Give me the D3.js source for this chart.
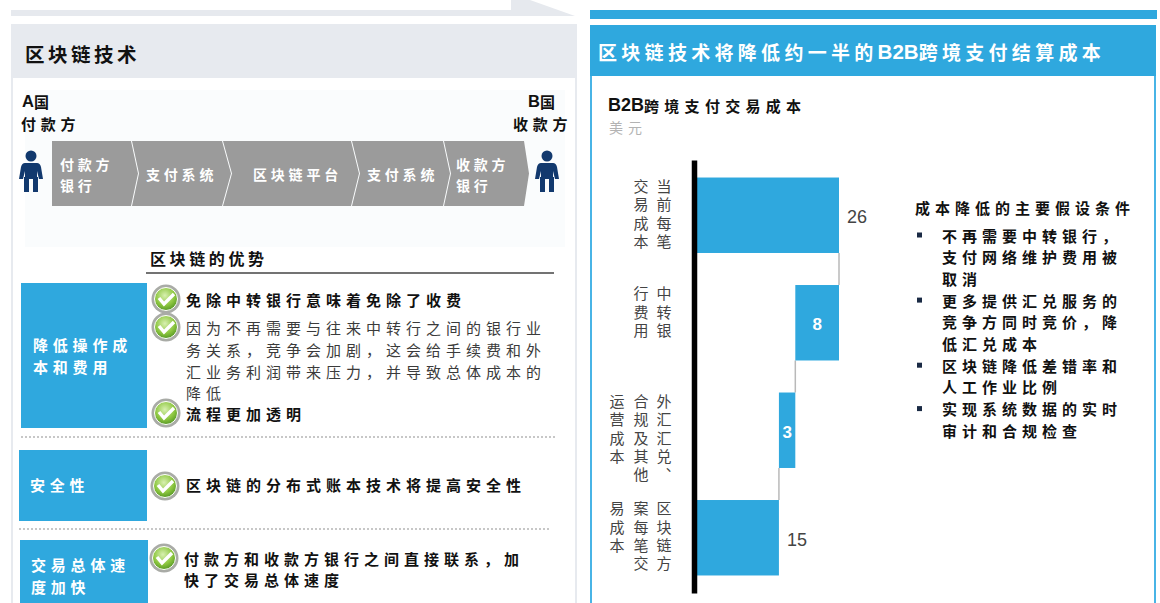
<!DOCTYPE html>
<html lang="zh">
<head>
<meta charset="utf-8">
<title>区块链技术将降低约一半的B2B跨境支付结算成本</title>
<script src="https://cdn.jsdelivr.net/npm/d3@7/dist/d3.min.js"></script>
<style>
html,body{margin:0;padding:0;background:#fff;overflow:hidden}
svg{display:block}
text{font-family:"Noto Sans CJK SC","Liberation Sans",sans-serif}
.num,.latin{font-family:"Liberation Sans",Arial,sans-serif}
</style>
</head>
<body>
<svg id="chart" width="1160" height="603"></svg>
<script>
// Waterfall data: cost per B2B cross-border payment, USD
const costCategories = ["current", "bankFees", "fxCompliance", "blockchain"];
const costValues = [26, 8, 3, 15];
const costKinds = ["total", "drop", "drop", "total"];
const costLabelColumns = [
  ["当前每笔", "交易成本"],
  ["中转银", "行费用"],
  ["外汇汇兑、", "合规及其他", "运营成本"],
  ["区块链方", "案每笔交", "易成本"]
];

// Text content
const leftTitle = "区块链技术";
const rightTitle = "区块链技术将降低约一半的B2B跨境支付结算成本";
const chartTitle = "B2B跨境支付交易成本";
const chartUnit = "美元";
const flowSteps = [["付款方", "银行"], ["支付系统"], ["区块链平台"], ["支付系统"], ["收款方", "银行"]];
const advantagesTitle = "区块链的优势";
const advantageHeads = [["降低操作成", "本和费用"], ["安全性"], ["交易总体速", "度加快"]];
const advantageLines = [
  {check: true,  bold: true,  text: "免除中转银行意味着免除了收费"},
  {check: true,  bold: false, text: "因为不再需要与往来中转行之间的银行业"},
  {check: false, bold: false, text: "务关系，竞争会加剧，这会给手续费和外"},
  {check: false, bold: false, text: "汇业务利润带来压力，并导致总体成本的"},
  {check: false, bold: false, text: "降低"},
  {check: true,  bold: true,  text: "流程更加透明"},
  {check: true,  bold: true,  text: "区块链的分布式账本技术将提高安全性"},
  {check: true,  bold: true,  text: "付款方和收款方银行之间直接联系，加"},
  {check: false, bold: true,  text: "快了交易总体速度"}
];
const assumptionsTitle = "成本降低的主要假设条件";
const assumptions = [
  ["不再需要中转银行，", "支付网络维护费用被", "取消"],
  ["更多提供汇兑服务的", "竞争方同时竞价，降", "低汇兑成本"],
  ["区块链降低差错率和", "人工作业比例"],
  ["实现系统数据的实时", "审计和合规检查"]
];

const BLUE = "#2fa8de", NAVY = "#12396e", INK = "#111";
const svg = d3.select("#chart");

const defs = svg.append("defs");
const grad = defs.append("radialGradient").attr("id", "okFill").attr("cx", "45%").attr("cy", "35%").attr("r", "70%");
grad.append("stop").attr("offset", "0%").attr("stop-color", "#d8f0b0");
grad.append("stop").attr("offset", "60%").attr("stop-color", "#8cc63f");
grad.append("stop").attr("offset", "100%").attr("stop-color", "#4d8f22");

// Draws one line of text; Latin runs get a tighter sans setting than the CJK runs
function label(g, x, y, str, o = {}) {
  const size = o.size || 15;
  const ls = o.ls === undefined ? 4 : o.ls;
  const t = g.append("text").attr("x", x).attr("y", y)
    .attr("dominant-baseline", "central")
    .attr("font-size", size)
    .attr("font-weight", o.bold ? 700 : 400)
    .attr("text-anchor", o.anchor || "start")
    .attr("fill", o.fill || INK);
  str.split(/([A-Za-z0-9]+)/).filter(s => s).forEach(run => {
    const latin = /^[A-Za-z0-9]+$/.test(run);
    t.append("tspan")
      .attr("class", latin ? "latin" : null)
      .attr("font-size", latin ? size * (o.latinScale || 1.12) : size)
      .attr("letter-spacing", latin ? 0 : ls)
      .text(run);
  });
  return t;
}

/* ---------- left panel ---------- */
const L = svg.append("g");
L.append("path").attr("d", "M11 10H511V0H530L575 16H11Z").attr("fill", "#e6e9ee");
L.append("rect").attr("x", 11).attr("y", 24).attr("width", 566).attr("height", 54).attr("fill", "#e7eaef");
L.append("path").attr("d", "M12 78V603M576 78V603").attr("stroke", "#e7eaef").attr("stroke-width", 2).attr("fill", "none");
L.append("rect").attr("x", 25).attr("y", 90).attr("width", 540).attr("height", 157).attr("fill", "#fafcfd");
label(L, 25, 53, leftTitle, {size: 19.5, bold: true, ls: 3.5});

label(L, 22, 101, "A国", {size: 15, bold: true, ls: 0, latinScale: 1.1});
label(L, 21, 123, "付款方", {size: 15, bold: true, ls: 4.7});
label(L, 528, 101, "B国", {size: 15, bold: true, ls: 0, latinScale: 1.1});
label(L, 513, 123, "收款方", {size: 15, bold: true, ls: 4.7});

// Process chevrons between the two parties
const flowEdges = [51, 131, 222, 351, 443, 524];
const flowTip = [7, 9, 8, 7, 5];
const flowTextX = [60, 146, 253, 367, 456];
const flowTop = 141, flowBot = 206, flowMid = 173.5;
flowSteps.forEach((lines, i) => {
  const a = flowEdges[i], b = flowEdges[i + 1], t = flowTip[i];
  const notch = i === 0 ? 0 : flowTip[i - 1];
  const d = `M${a + 1} ${flowTop}H${b}L${b + t} ${flowMid}L${b} ${flowBot}H${a + 1}` +
            (notch ? `L${a + 1 + notch} ${flowMid}Z` : "Z");
  L.append("path").attr("d", d).attr("fill", "#9b9b9b");
  const single = lines.length === 1;
  lines.forEach((s, k) => label(L, flowTextX[i], single ? flowMid : 164 + k * 21, s, {size: 14, bold: true, ls: 3.8, fill: "#fff"}));
});

// Payer and payee figures
function person(g, cx) {
  const p = g.append("g").attr("transform", `translate(${cx},150)`).attr("fill", NAVY);
  p.append("circle").attr("cx", 0).attr("cy", 6).attr("r", 5.5);
  p.append("path").attr("d", "M-6 13H6Q9 13 10 17L12 29H8L6 21V27H7V42H2V29H-2V42H-7V27H-6V21L-8 29H-12L-10 17Q-9 13 -6 13Z");
}
person(L, 31);
person(L, 547);

label(L, 150, 258, advantagesTitle, {size: 16, bold: true, ls: 3.6});
L.append("line").attr("x1", 146).attr("x2", 554).attr("y1", 273).attr("y2", 273).attr("stroke", "#444").attr("stroke-width", 1.5);

// Blue category blocks
const headBoxes = [
  {x: 21, y: 283, w: 126, h: 145, tx: 33, ty: [344, 366]},
  {x: 19, y: 450, w: 128, h: 71, tx: 30, ty: [484]},
  {x: 20, y: 540, w: 128, h: 70, tx: 31, ty: [564, 586]}
];
headBoxes.forEach((b, i) => {
  L.append("rect").attr("x", b.x).attr("y", b.y).attr("width", b.w).attr("height", b.h).attr("fill", BLUE);
  advantageHeads[i].forEach((s, k) => label(L, b.tx, b.ty[k], s, {size: 15, bold: true, ls: 4.8, fill: "#fff"}));
});

[[21, 555, 437], [19, 550, 529]].forEach(([a, b, y]) =>
  L.append("line").attr("x1", a).attr("x2", b).attr("y1", y).attr("y2", y)
    .attr("stroke", "#b5b5b5").attr("stroke-width", 1.5).attr("stroke-dasharray", "2 2"));

// Advantage bullets with check badges
function badge(g, cx, cy) {
  const c = g.append("g").attr("transform", `translate(${cx},${cy})`);
  c.append("circle").attr("r", 14.5).attr("fill", "#a9aba6");
  c.append("circle").attr("r", 11.5).attr("fill", "url(#okFill)").attr("stroke", "#fff").attr("stroke-width", 1);
  c.append("path").attr("d", "M-7 -1L-2 5L8 -5").attr("fill", "none").attr("stroke", "#fff").attr("stroke-width", 3.4);
}
const lineY = [299, 327, 349, 371, 392, 413, 484, 558, 579];
const lineX = [186, 186, 186, 186, 186, 186, 186, 184, 184];
const badgeX = [166, 166, 166, 166, 166, 166, 165, 164, 164];
advantageLines.forEach((d, i) => {
  if (d.check) badge(L, badgeX[i], lineY[i] + (i === 6 ? 2 : 0));
  label(L, lineX[i], lineY[i], d.text, {size: 15, bold: d.bold, ls: 5, fill: d.bold ? INK : "#3b3b3b"});
});

/* ---------- right panel ---------- */
const R = svg.append("g");
R.append("rect").attr("x", 590).attr("y", 10).attr("width", 567).attr("height", 9).attr("fill", BLUE);
R.append("rect").attr("x", 591).attr("y", 26).attr("width", 564).attr("height", 600).attr("fill", "#fff").attr("stroke", "#48b4e6").attr("stroke-width", 2);
R.append("rect").attr("x", 590).attr("y", 25).attr("width", 566).attr("height", 51).attr("fill", BLUE);
label(R, 598, 51, rightTitle, {size: 19, bold: true, ls: 4.3, fill: "#fff", latinScale: 1.08});
label(R, 608, 105, chartTitle, {size: 15, bold: true, ls: 5.3, latinScale: 1.2});
label(R, 609, 127, chartUnit, {size: 14, ls: 5, fill: "#b3b3b3"});

// Waterfall scales
const x = d3.scaleLinear().domain([0, 26]).range([697, 839]);
const y = d3.scaleBand().domain(costCategories).range([160, 593]).paddingInner(0.298).paddingOuter(0.163);

// Running level: each bar spans [start, end] in USD
let level = 0;
const steps = costCategories.map((c, i) => {
  const v = costValues[i];
  if (costKinds[i] === "total") { level = v; return {c, v, i, start: 0, end: v, link: v}; }
  const s = {c, v, i, start: level - v, end: level, link: level - v};
  level -= v;
  return s;
});

const chart = R.append("g");
steps.slice(0, -1).forEach((d, i) => {
  chart.append("line")
    .attr("x1", x(d.link)).attr("x2", x(d.link))
    .attr("y1", y(d.c) + y.bandwidth())
    .attr("y2", y(steps[i + 1].c))
    .attr("stroke", "#b9b9b9").attr("stroke-width", 1.5);
});
chart.selectAll("rect.bar").data(steps).join("rect").attr("class", "bar")
  .attr("x", d => x(d.start))
  .attr("y", d => y(d.c))
  .attr("width", d => x(d.end) - x(d.start))
  .attr("height", y.bandwidth())
  .attr("fill", BLUE);

const axis = chart.append("g").attr("transform", "translate(694,0)")
  .call(d3.axisLeft(y).tickSize(0).tickFormat(""));
axis.select(".domain").attr("stroke", "#000").attr("stroke-width", 5.5);

chart.selectAll("text.val").data(steps).join("text").attr("class", "val num")
  .attr("dominant-baseline", "central")
  .attr("font-size", d => costKinds[d.i] === "total" ? 18 : 17)
  .attr("font-weight", d => costKinds[d.i] === "total" ? 400 : 700)
  .attr("fill", d => costKinds[d.i] === "total" ? "#444" : "#fff")
  .attr("text-anchor", d => costKinds[d.i] === "total" ? "start" : "middle")
  .attr("x", d => costKinds[d.i] === "total" ? x(d.end) + 8 : (x(d.start) + x(d.end)) / 2)
  .attr("y", d => y(d.c) + y.bandwidth() / 2 + 2)
  .text(d => d.v);

// Vertical category labels, columns run right to left
const columnX = [664, 641, 617];
costCategories.forEach((c, i) => {
  costLabelColumns[i].forEach((col, k) => {
    chart.append("text")
      .attr("x", columnX[k]).attr("y", y(c) + 1)
      .attr("writing-mode", "vertical-rl")
      .attr("font-size", 15).attr("letter-spacing", 3.4).attr("fill", "#444")
      .text(col);
  });
});

// Assumptions list
label(R, 915, 207, assumptionsTitle, {size: 15, bold: true, ls: 5});
let row = 234.5;
assumptions.forEach(lines => {
  R.append("rect").attr("x", 917).attr("y", row - 2).attr("width", 5).attr("height", 5).attr("fill", "#1a2a44");
  lines.forEach(s => {
    label(R, 942, row, s, {size: 15, bold: true, ls: 5});
    row += 21.7;
  });
});
</script>
</body>
</html>
